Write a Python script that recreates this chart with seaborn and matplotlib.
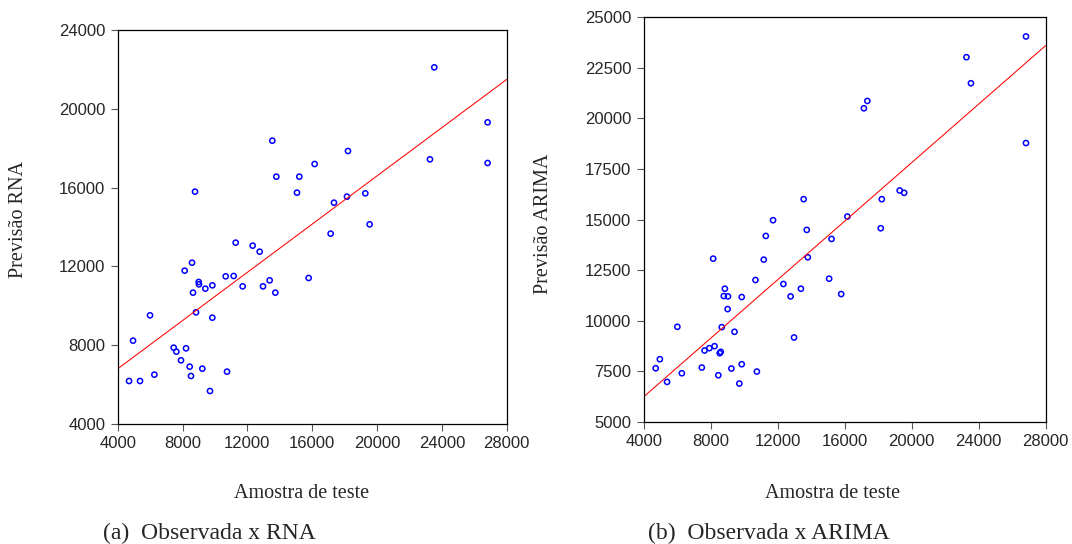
import numpy as np
import pandas as pd
import matplotlib
matplotlib.use("Agg")
import matplotlib.pyplot as plt
import seaborn as sns

# amostra de teste (observada) e previsoes dos dois modelos
observada = [23532, 23265, 26822, 26822, 13540, 13375, 18207, 18145, 16151, 13787,
             13725, 15205, 15061, 19276, 19543, 17343, 17138, 11278, 12327, 12759,
             8133, 10661, 11155, 15781, 8441, 8523, 8585, 8647, 8770, 8832,
             8996, 9017, 9839, 9839, 9407, 11710, 12964, 5994, 4946, 7454,
             7619, 8215, 7906, 9222, 10744, 6262, 4699, 5378, 9695]
prev_rna = [22105, 17435, 19313, 17249, 18383, 11293, 17858, 15540, 17198, 16555,
            10667, 16555, 15743, 15709, 14136, 15235, 13662, 13205, 13053, 12748,
            11784, 11496, 11513, 11412, 6911, 6437, 12190, 10667, 15794, 9669,
            11208, 11090, 11039, 9398, 10870, 10988, 10988, 9517, 8230, 7875,
            7672, 7841, 7232, 6809, 6657, 6505, 6183, 6183, 5676]
prev_arima = [21741, 23029, 24053, 18786, 16012, 11587, 16012, 14576, 15154, 13139,
              14493, 14047, 12083, 16441, 16326, 20866, 20503, 14196, 11819, 11208,
              13073, 12017, 13024, 11323, 7311, 8401, 8467, 9688, 11224, 11587,
              10580, 11208, 11175, 7856, 9458, 14972, 9177, 9705, 8104, 7691,
              8533, 8748, 8649, 7642, 7493, 7410, 7658, 6981, 6899]

x_ticks = [4000, 8000, 12000, 16000, 20000, 24000, 28000]
y_ticks_rna = [4000, 8000, 12000, 16000, 20000, 24000]
y_ticks_arima = [5000, 7500, 10000, 12500, 15000, 17500, 20000, 22500, 25000]

df = pd.DataFrame({"obs": observada, "rna": prev_rna, "arima": prev_arima})

sns.set_style("white")
plt.rcParams["font.family"] = ["Liberation Sans", "DejaVu Sans"]
serif = ["Liberation Serif", "DejaVu Serif"]

W, H = 1072, 544
fig = plt.figure(figsize=(W / 100, H / 100), dpi=100)
ax1 = fig.add_axes([117.7 / W, 1 - 424 / H, 389 / W, 394 / H])
ax2 = fig.add_axes([644 / W, 1 - 422 / H, 401.7 / W, 404.7 / H])


def draw(ax, col, yticks):
    # scatter + reta de regressao estendida ate os limites do eixo
    ax.set_xlim(4000, 28000)
    ax.set_ylim(yticks[0], yticks[-1])
    sns.regplot(data=df, x="obs", y=col, ax=ax, ci=None, truncate=False,
                scatter_kws=dict(s=14, facecolors="none", edgecolors="#0000ff",
                                 linewidths=1.1, alpha=1),
                line_kws=dict(color="#ff0000", lw=0.75))
    ax.set_xlim(4000, 28000)
    ax.set_ylim(yticks[0], yticks[-1])
    ax.set_xticks(x_ticks)
    ax.set_yticks(yticks)
    ax.set_xlabel("")
    ax.set_ylabel("")
    ax.tick_params(axis="both", direction="out", length=5, width=0.8,
                   color="#555555", labelsize=12, pad=4, bottom=True, left=True)
    for s in ax.spines.values():
        s.set_color("black")
        s.set_linewidth(0.9)


draw(ax1, "rna", y_ticks_rna)
draw(ax2, "arima", y_ticks_arima)

fig.text(302 / W, 1 - 493 / H, "Amostra de teste", family=serif, fontsize=14.5,
         ha="center", va="center")
fig.text(833 / W, 1 - 493 / H, "Amostra de teste", family=serif, fontsize=14.5,
         ha="center", va="center")
fig.text(19 / W, 1 - 220 / H, "Previsão RNA", family=serif, fontsize=14.5,
         ha="center", va="center", rotation=90)
fig.text(543 / W, 1 - 224 / H, "Previsão ARIMA", family=serif, fontsize=14.5,
         ha="center", va="center", rotation=90)
fig.text(209 / W, 1 - 533 / H, "(a)  Observada x RNA", family=serif, fontsize=17,
         ha="center", va="center")
fig.text(769 / W, 1 - 533 / H, "(b)  Observada x ARIMA", family=serif, fontsize=17,
         ha="center", va="center")

fig.savefig("out.png", dpi=100, facecolor="white")
